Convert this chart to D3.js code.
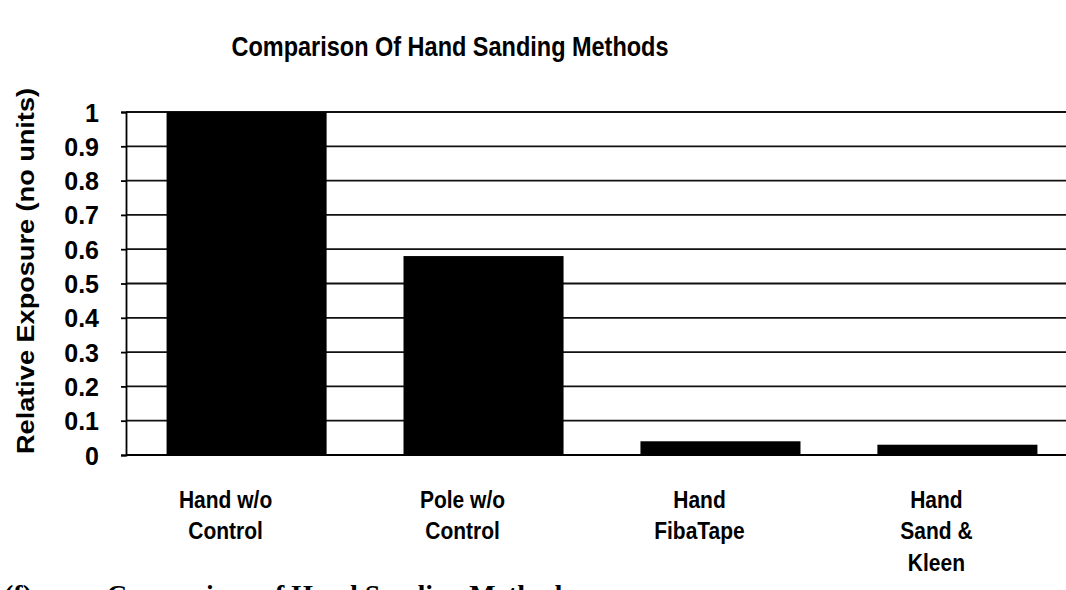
<!DOCTYPE html>
<html>
<head>
<meta charset="utf-8">
<script src="https://cdn.jsdelivr.net/npm/d3@7"></script>
<style>
  body { margin: 0; background: #fff; }
  svg text { font-family: "Liberation Sans", Arial, sans-serif; font-weight: bold; fill: #000; }
  .caption { font-family: "Liberation Serif", "Times New Roman", serif; }
</style>
</head>
<body>
<div id="chart"></div>
<script>
// values
let categories = [["Hand w/o", "Control"], ["Pole w/o", "Control"], ["Hand", "FibaTape"], ["Hand", "Sand &", "Kleen"]];
let exposure = [1.0, 0.58, 0.04, 0.03];
let yTicks = [0, 0.1, 0.2, 0.3, 0.4, 0.5, 0.6, 0.7, 0.8, 0.9, 1];

let width = 1066, height = 590;
let margin = { top: 112, right: -8, bottom: 135, left: 126 };

let svg = d3.select("#chart").append("svg")
    .attr("width", width)
    .attr("height", height);

let x = d3.scaleBand()
    .domain(d3.range(categories.length))
    .range([margin.left, width - margin.right])
    .paddingInner(0.333)
    .paddingOuter(0.167);

let y = d3.scaleLinear()
    .domain([0, 1])
    .range([height - margin.bottom, margin.top]);

// grid lines
svg.append("g")
    .selectAll("line")
    .data(yTicks.slice(1))
    .enter().append("line")
    .attr("x1", margin.left)
    .attr("x2", width)
    .attr("y1", d => y(d))
    .attr("y2", d => y(d))
    .style("stroke", "#111")
    .style("stroke-width", 1.8);

// bars
svg.append("g")
    .selectAll("rect")
    .data(exposure)
    .enter().append("rect")
    .attr("x", (d, i) => x(i) + 1)
    .attr("y", d => y(d))
    .attr("width", x.bandwidth() + 2)
    .attr("height", d => y(0) - y(d))
    .style("fill", "#000");

// y axis
let yAxis = svg.append("g")
    .attr("transform", "translate(" + margin.left + ",0)")
    .call(d3.axisLeft(y)
        .tickValues(yTicks)
        .tickSize(5)
        .tickPadding(22)
        .tickFormat(d3.format("")));
yAxis.select(".domain").style("stroke", "#000").style("stroke-width", 1.8);
yAxis.selectAll(".tick line").style("stroke", "#000").style("stroke-width", 1.8);
yAxis.selectAll(".tick text")
    .style("font-size", "25px")
    .style("font-family", "'Liberation Sans', Arial, sans-serif")
    .style("font-weight", "bold")
    .attr("dy", "0.36em");

// x baseline
svg.append("line")
    .attr("x1", margin.left)
    .attr("x2", width)
    .attr("y1", y(0))
    .attr("y2", y(0))
    .style("stroke", "#000")
    .style("stroke-width", 1.8);

// category labels, slightly stretched like the scan
let labels = svg.append("g")
    .selectAll("text")
    .data(categories)
    .enter().append("text")
    .attr("text-anchor", "middle")
    .attr("transform", (d, i) => "translate(" + (x(i) + x.bandwidth() / 2 - 19) + "," + (y(0) + 53) + ") scale(1,1.18)")
    .style("font-size", "21px");
labels.selectAll("tspan")
    .data(d => d)
    .enter().append("tspan")
    .attr("x", 0)
    .attr("y", (d, i) => i * 26.5)
    .text(d => d);

// title
svg.append("text")
    .attr("transform", "translate(450,56) scale(1,1.2)")
    .attr("text-anchor", "middle")
    .style("font-size", "23.5px")
    .text("Comparison Of Hand Sanding Methods");

// y axis title
svg.append("text")
    .attr("transform", "translate(34,271) rotate(-90)")
    .attr("text-anchor", "middle")
    .attr("textLength", 366)
    .attr("lengthAdjust", "spacingAndGlyphs")
    .style("font-size", "23px")
    .text("Relative Exposure (no units)");

// caption, cut off by the page edge as in the scan
svg.append("text")
    .attr("class", "caption")
    .attr("x", 4)
    .attr("y", 604)
    .style("font-size", "28px")
    .text("(f)");
svg.append("text")
    .attr("class", "caption")
    .attr("x", 107)
    .attr("y", 604)
    .attr("textLength", 466)
    .attr("lengthAdjust", "spacingAndGlyphs")
    .style("font-size", "28px")
    .text("Comparison of Hand Sanding Methods");
</script>
</body>
</html>
